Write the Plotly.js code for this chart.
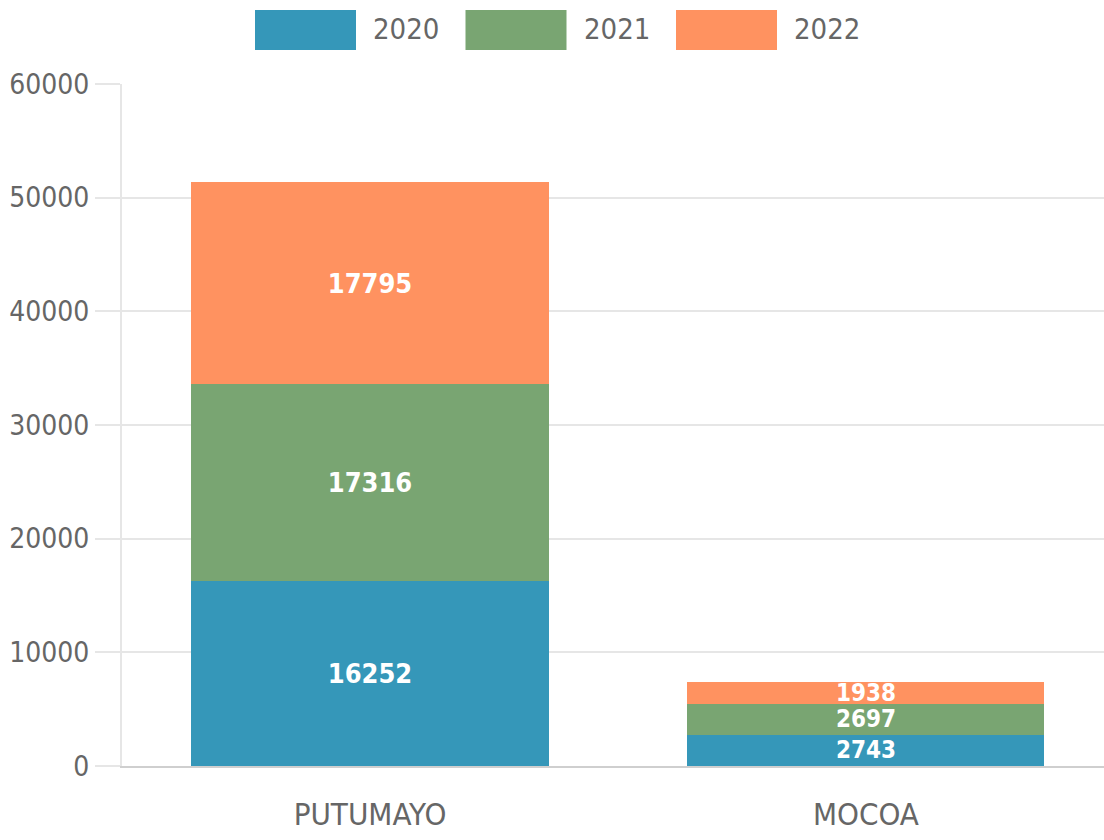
<!DOCTYPE html>
<html>
<head>
<meta charset="utf-8">
<script src="https://cdn.plot.ly/plotly-3.0.1.min.js"></script>
<style>
  html, body { margin: 0; padding: 0; background: #ffffff; }
  #chart { width: 1104px; height: 840px; }
</style>
</head>
<body>
<div id="chart"></div>
<script>
// data
const categories = ['PUTUMAYO', 'MOCOA'];
const years = ['2020', '2021', '2022'];
const values2020 = [16252, 2743];
const values2021 = [17316, 2697];
const values2022 = [17795, 1938];
const yearColors = ['#3597b9', '#79a572', '#ff9260'];

const seriesValues = [values2020, values2021, values2022];
const font = '"DejaVu Sans Condensed", "Liberation Sans Narrow", sans-serif';

let traces = [];
for (let i = 0; i < years.length; i++) {
    traces.push({
        type: 'bar',
        name: years[i],
        x: categories,
        y: seriesValues[i],
        text: seriesValues[i].map(String),
        textposition: 'inside',
        insidetextanchor: 'middle',
        constraintext: 'none',
        textangle: 0,
        // smaller labels in the thin MOCOA segments
        textfont: {family: font, size: [27, 24], color: '#ffffff', weight: 'bold'},
        marker: {color: yearColors[i], line: {width: 0}},
        width: 0.72,
        showlegend: false,
        hoverinfo: 'x+y+name'
    });
}

// legend drawn as boxes + labels above the plot
let shapes = [];
let annotations = [];
const plotW = 982;
for (let i = 0; i < years.length; i++) {
    let x0 = 255 + i * 210.5;
    shapes.push({
        type: 'rect', xref: 'paper', yref: 'paper',
        x0: (x0 - 122) / plotW, x1: (x0 + 101 - 122) / plotW,
        y0: (766 - 50) / 682, y1: (766 - 10) / 682,
        fillcolor: yearColors[i], line: {width: 0}
    });
    annotations.push({
        xref: 'paper', yref: 'paper',
        x: (x0 + 116 - 122) / plotW, y: (766 - 29) / 682,
        xanchor: 'left', yanchor: 'middle',
        text: years[i], showarrow: false,
        font: {family: font, size: 29, color: '#666666'}
    });
}

let layout = {
    width: 1104,
    height: 840,
    margin: {l: 122, r: 0, t: 84, b: 74, pad: 0},
    paper_bgcolor: '#ffffff',
    plot_bgcolor: '#ffffff',
    barmode: 'stack',
    bargap: 0.28,
    showlegend: false,
    xaxis: {
        range: [-0.5, 1.48],
        showgrid: false,
        showline: true,
        linecolor: '#cfcfcf',
        linewidth: 2,
        ticks: '',
        tickfont: {family: font, size: 31, color: '#666666'},
        ticklabelstandoff: 20,
        zeroline: false
    },
    yaxis: {
        range: [0, 60000],
        tickvals: [0, 10000, 20000, 30000, 40000, 50000, 60000],
        ticktext: ['0', '10000', '20000', '30000', '40000', '50000', '60000'],
        showgrid: true,
        gridcolor: '#e6e6e6',
        gridwidth: 2,
        showline: true,
        linecolor: '#e6e6e6',
        linewidth: 2,
        ticks: 'outside',
        ticklen: 25,
        tickwidth: 2,
        tickcolor: '#e6e6e6',
        tickfont: {family: font, size: 28, color: '#666666'},
        zeroline: false
    },
    shapes: shapes,
    annotations: annotations
};

Plotly.newPlot('chart', traces, layout, {displayModeBar: false, staticPlot: true});
</script>
</body>
</html>
